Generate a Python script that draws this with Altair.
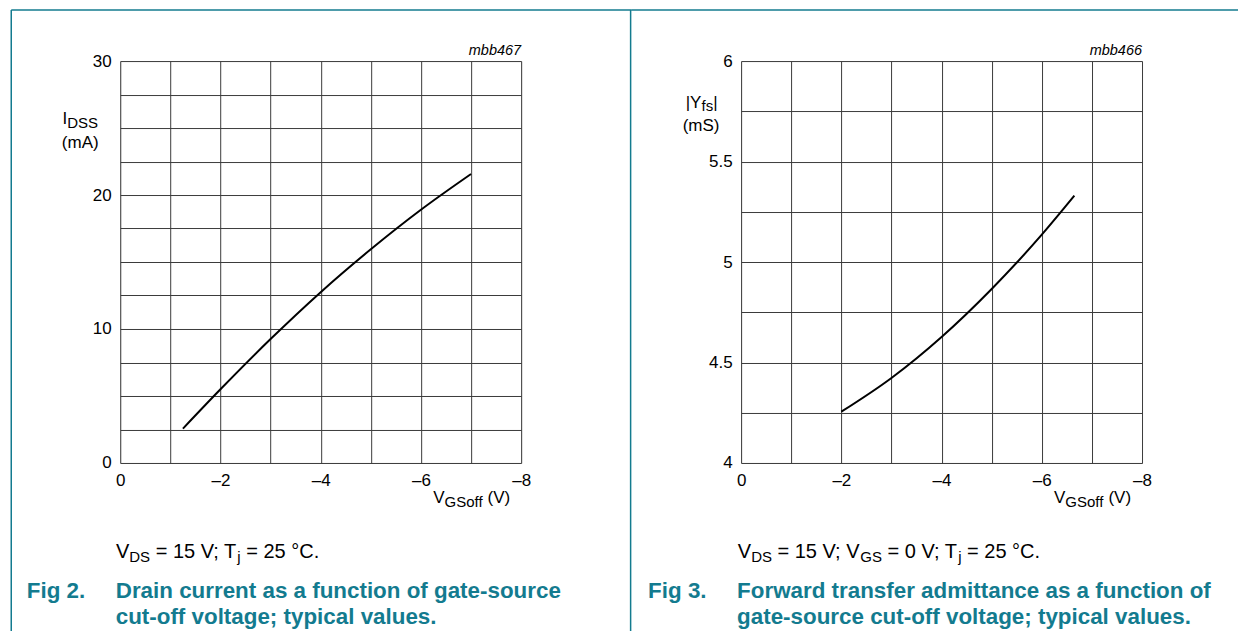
import altair as alt
import pandas as pd

# ---------------- data ----------------
# Fig 2: drain current vs gate-source cut-off voltage
vgs_fig2 = [-1.25, -2.0, -3.0, -4.0, -5.0, -6.0, -7.0]
idss_fig2 = [2.56, 5.5, 9.25, 12.75, 15.95, 18.9, 21.57]

# Fig 3: forward transfer admittance vs gate-source cut-off voltage
vgs_fig3 = [-2.0, -3.0, -4.0, -5.0, -6.0, -6.65]
yfs_fig3 = [4.255, 4.423, 4.627, 4.866, 5.136, 5.33]

# axis grid values and tick labels
x_grid = [0, -1, -2, -3, -4, -5, -6, -7, -8]
x_labels = ["0", "", "\u20132", "", "\u20134", "", "\u20136", "", "\u20138"]
y_grid_fig2 = [0, 2.5, 5, 7.5, 10, 12.5, 15, 17.5, 20, 22.5, 25, 27.5, 30]
y_labels_fig2 = ["0", "", "", "", "10", "", "", "", "20", "", "", "", "30"]
y_grid_fig3 = [4, 4.25, 4.5, 4.75, 5, 5.25, 5.5, 5.75, 6]
y_labels_fig3 = ["4", "", "4.5", "", "5", "", "5.5", "", "6"]

# ---------------- styling ----------------
FONT = "Liberation Sans"
TEAL = "#137B8F"
GRID = "#3a3a3a"
W_PLOT, H_PLOT = 401, 402
AX = 17      # axis font size
AX_SUB = 15  # axis subscript size
CAP = 22.4   # caption font size

dummy = pd.DataFrame({"k": [0]})

# Arial / Liberation Sans advance widths (per 1000 em)
ADV = {" ": 278, "=": 584, "V": 667, ";": 278, "T": 611, "j": 222, "D": 722,
       "S": 667, "G": 778, "\u00b0": 400, "C": 722, ".": 278, "I": 278,
       "(": 333, ")": 333, "m": 833, "A": 667, "|": 260, "Y": 667, "f": 278,
       "s": 500, "o": 556}
for d in "0123456789":
    ADV[d] = 556


def adv(s, size):
    return sum(ADV.get(c, 556) for c in s) * size / 1000.0


def lab_expr(vals, labs):
    e = "''"
    for v, l in reversed(list(zip(vals, labs))):
        e = "datum.value == %r ? '%s' : %s" % (v, l, e)
    return e


def txt(s, x, y, size=AX, align="left", color="black", weight="normal", style="normal"):
    return alt.Chart(dummy).mark_text(
        text=s, align=align, baseline="alphabetic", font=FONT, fontSize=size,
        fontWeight=weight, fontStyle=style, color=color
    ).encode(x=alt.value(x), y=alt.value(y))


def rich(parts, x, y, size, sub_size, sub_dy):
    out = []
    for s, sub in parts:
        fs = sub_size if sub else size
        st = s.lstrip(" ")
        lead = adv(s[: len(s) - len(st)], fs)
        out.append(txt(st, x + lead, y + (sub_dy if sub else 0), fs))
        x += adv(s, fs)
    return out


def hrule(x1, x2, y):
    return alt.Chart(dummy).mark_rule(color=TEAL, strokeWidth=1.5).encode(
        x=alt.value(x1), x2=alt.value(x2), y=alt.value(y))


def vrule(x, y1, y2):
    return alt.Chart(dummy).mark_rule(color=TEAL, strokeWidth=1.5).encode(
        x=alt.value(x), y=alt.value(y1), y2=alt.value(y2))


def axis(vals, labs, orient, pad):
    return alt.Axis(values=vals, labelExpr=lab_expr(vals, labs), title=None,
                    orient=orient, grid=True, gridColor=GRID, gridWidth=1,
                    gridOpacity=1, ticks=False, domain=False, labelFont=FONT,
                    labelFontSize=AX, labelColor="black", labelPadding=pad,
                    labelFlush=False, labelOverlap=False)


def curve(xs, ys, ydom, ygrid, ylabs):
    df = pd.DataFrame({"v": xs, "y": ys})
    return alt.Chart(df).mark_line(color="black", strokeWidth=2, interpolate="monotone").encode(
        x=alt.X("v:Q", scale=alt.Scale(domain=[0, -8], nice=False, zero=False),
                axis=axis(x_grid, x_labels, "bottom", 10)),
        y=alt.Y("y:Q", scale=alt.Scale(domain=ydom, nice=False, zero=False),
                axis=axis(ygrid, ylabs, "left", 9)),
    )


def xtitle():
    return rich([("V", False), ("GSoff", True), (" (V)", False)], 313, 442.5, AX, AX_SUB, 4)


# ---------------- panel 1 (Fig 2) ----------------
p1_layers = [curve(vgs_fig2, idss_fig2, [0, 30], y_grid_fig2, y_labels_fig2)]
p1_layers += [
    hrule(-109, 511, -51),
    vrule(-109, -51, 575),
    txt("mbb467", W_PLOT, -6, 14.5, align="right", style="italic"),
]
p1_layers += rich([("I", False), ("DSS", True)], -57.75, 63, AX, AX_SUB, 3.5)
p1_layers += [txt("(mA)", -40, 86.5, AX, align="center")]
p1_layers += xtitle()
p1_layers += rich([("V", False), ("DS", True), (" = 15 V; T", False), ("j", True),
                   (" = 25 \u00b0C.", False)], -4.3, 497.5, 20, 15, 4)
p1_layers += [
    txt("Fig 2.", -93.5, 537, CAP, color=TEAL, weight="bold"),
    txt("Drain current as a function of gate-source", -4.5, 537, CAP, color=TEAL, weight="bold"),
    txt("cut-off voltage; typical values.", -4.5, 563, CAP, color=TEAL, weight="bold"),
]
panel1 = alt.layer(*p1_layers).properties(width=W_PLOT, height=H_PLOT)

# ---------------- panel 2 (Fig 3) ----------------
p2_layers = [curve(vgs_fig3, yfs_fig3, [4, 6], y_grid_fig3, y_labels_fig3)]
p2_layers += [
    hrule(-110, 497, -51),
    vrule(-110.5, -51, 575),
    txt("mbb466", W_PLOT, -6, 14.5, align="right", style="italic"),
]
p2_layers += rich([("|Y", False), ("fs", True), ("|", False)], -55.4, 46.5, AX, AX_SUB, 3.5)
p2_layers += [txt("(mS)", -40, 70, AX, align="center")]
p2_layers += xtitle()
p2_layers += rich([("V", False), ("DS", True), (" = 15 V; V", False), ("GS", True),
                   (" = 0 V; T", False), ("j", True), (" = 25 \u00b0C.", False)],
                  -3.3, 497.5, 20, 15, 4)
p2_layers += [
    txt("Fig 3.", -93, 537, CAP, color=TEAL, weight="bold"),
    txt("Forward transfer admittance as a function of", -4, 537, CAP, color=TEAL, weight="bold"),
    txt("gate-source cut-off voltage; typical values.", -4, 563, CAP, color=TEAL, weight="bold"),
]
panel2 = alt.layer(*p2_layers).properties(width=W_PLOT, height=H_PLOT)

chart = (
    alt.hconcat(panel1, panel2, spacing=220, bounds="flush")
    .properties(padding={"left": 1.25, "top": 0, "right": 0, "bottom": 0})
    .configure_view(strokeWidth=0)
    .configure(background="white")
)

chart.save("out.html", embed_options={"renderer": "svg", "actions": False})
